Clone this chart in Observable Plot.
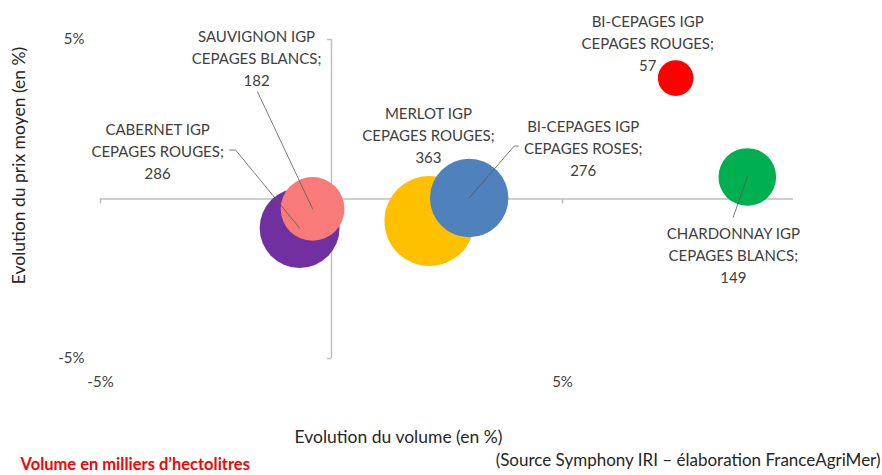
<!DOCTYPE html>
<html>
<head>
<meta charset="utf-8">
<script src="https://cdn.jsdelivr.net/npm/d3@7"></script>
<script src="https://cdn.jsdelivr.net/npm/@observablehq/plot@0.6"></script>
<style>
  html, body { margin: 0; padding: 0; background: #fff; }
  #chart svg { display: block; }
</style>
</head>
<body>
<div id="chart"></div>
<script>
// ---- DATA ----
const categories = [
  "CABERNET IGP\nCEPAGES ROUGES",
  "SAUVIGNON IGP\nCEPAGES BLANCS",
  "MERLOT IGP\nCEPAGES ROUGES",
  "BI-CEPAGES IGP\nCEPAGES ROSES",
  "BI-CEPAGES IGP\nCEPAGES ROUGES",
  "CHARDONNAY IGP\nCEPAGES BLANCS"
];
const volumeChange = [-0.69, -0.41, 2.12, 2.98, 7.45, 9.0];   // Evolution du volume (%)
const priceChange  = [-0.91, -0.31, -0.69, 0.03, 3.79, 0.69]; // Evolution du prix moyen (%)
const volumes      = [286, 182, 363, 276, 57, 149];            // milliers d'hectolitres
const xTicks = [-5, 5];
const yTicks = [-5, 5];
const xTitle = "Evolution du volume (en %)";
const yTitle = "Evolution du prix moyen (en %)";
const noteText = "Volume en milliers d\u2019hectolitres";
const sourceText = "(Source Symphony IRI \u2013 \u00e9laboration FranceAgriMer)";

// ---- STYLE / LAYOUT ----
const palette = ["#7030A0", "#F97B79", "#FFC000", "#4F81BD", "#FF0000", "#00B050"];
const W = 882, H = 475;
const mL = 100, mR = 89, mT = 39, mB = 117;
const xDom = [-5, 10], yDom = [-5, 5];
const kx = (xDom[1] - xDom[0]) / (W - mL - mR); // data units per px
const ky = (yDom[1] - yDom[0]) / (H - mT - mB);
const pxToX = px => xDom[0] + (px - mL) * kx;
const pxToY = py => yDom[1] - (py - mT) * ky;
// label offsets (px) of the middle text line relative to bubble centre
const labelOffsets = [[-142, -78], [-56, -152], [-1, -87], [114, -51], [-28, -36], [-14, 77]];
// leader polylines (px offsets from bubble centre), null = none
const leaderPaths = [
  [[0, 0], [-64, -78], [-70, -78]],
  [[0, 0], [-55, -117]],
  null,
  [[0, 0], [45, -52], [49, -52]],
  null,
  [[0, 0], [-14, 40]]
];

const rows = categories.map((c, i) => ({
  name: c,
  x: volumeChange[i],
  y: priceChange[i],
  v: volumes[i],
  color: palette[i],
  label: `${c};\n${volumes[i]}`,
  lx: volumeChange[i] + labelOffsets[i][0] * kx,
  ly: priceChange[i] - labelOffsets[i][1] * ky
}));

const leaders = [];
rows.forEach((d, i) => {
  const p = leaderPaths[i];
  if (!p) return;
  p.forEach(([dx, dy]) => leaders.push({id: i, x: d.x + dx * kx, y: d.y - dy * ky}));
});

const axisColor = "#BFBFBF";
const textColor = "#404040";
const font = "Lato, 'Open Sans', sans-serif";

const chart = Plot.plot({
  width: W,
  height: H,
  marginLeft: mL,
  marginRight: mR,
  marginTop: mT,
  marginBottom: mB,
  style: {fontFamily: font, color: textColor, background: "#fff"},
  x: {domain: xDom},
  y: {domain: yDom},
  r: {domain: [0, d3.max(volumes)], range: [0, 45]},
  color: {type: "identity"},
  marks: [
    // axes lines crossing at zero
    Plot.ruleY([0], {stroke: axisColor, strokeWidth: 1.5}),
    Plot.ruleX([0], {stroke: axisColor, strokeWidth: 1.5}),
    // tick stubs
    Plot.ruleX(xTicks, {x: d => d, y1: 0, y2: -5 * ky, stroke: axisColor, strokeWidth: 1.5}),
    Plot.ruleY(yTicks, {y: d => d, x1: 0, x2: -4 * kx, stroke: axisColor, strokeWidth: 1.5}),
    // tick labels
    Plot.axisX({ticks: xTicks, tickFormat: d => `${d}%`, tickSize: 0, tickPadding: 18, label: null, fontSize: 15, color: textColor}),
    Plot.axisY({ticks: yTicks, tickFormat: d => `${d}%`, tickSize: 0, tickPadding: 16, label: null, fontSize: 15, color: textColor}),
    // bubbles
    Plot.dot(rows, {x: "x", y: "y", r: "v", fill: "color", stroke: null}),
    // leader lines
    Plot.line(leaders, {x: "x", y: "y", z: "id", stroke: "#595959", strokeWidth: 0.8, curve: "linear"}),
    // labels
    Plot.text(rows, {x: "lx", y: "ly", text: "label", fontSize: 15, lineHeight: 1.47, lineAnchor: "middle", textAnchor: "middle", fill: textColor}),
    // axis titles
    Plot.text([xTitle], {x: pxToX(398), y: pxToY(437), fontSize: 17.5, fill: "#262626", lineAnchor: "middle"}),
    Plot.text([yTitle], {x: pxToX(19), y: pxToY(165), rotate: -90, fontSize: 17.5, fill: "#262626", lineAnchor: "middle"}),
    // notes
    Plot.text([noteText], {x: pxToX(20), y: pxToY(464), textAnchor: "start", fontSize: 16.5, fontWeight: "bold", fill: "#FF0000", lineAnchor: "middle"}),
    Plot.text([sourceText], {x: pxToX(880), y: pxToY(460), textAnchor: "end", fontSize: 17, fill: "#262626", lineAnchor: "middle"})
  ]
});
document.getElementById("chart").appendChild(chart);
</script>
</body>
</html>
